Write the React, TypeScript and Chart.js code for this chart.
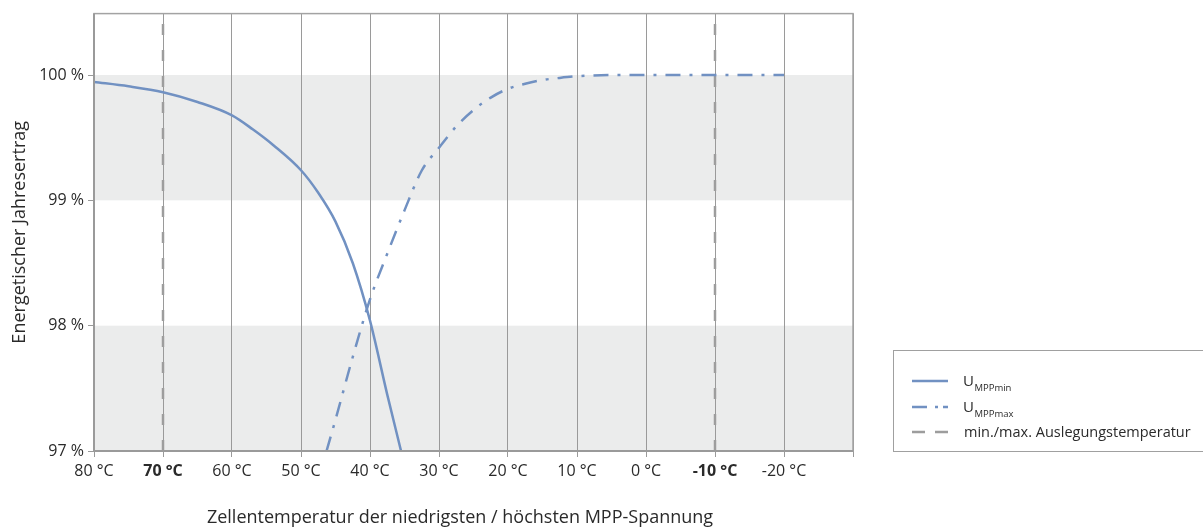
import React, { useEffect, useRef } from "react";
import { Chart, registerables } from "chart.js";

Chart.register(...registerables);

const FONT = "'Open Sans', Lato, sans-serif";

// UMPPmin curve (solid)
const TEMPS_MIN = [80, 75, 70, 65, 60, 57, 54, 50, 47.5, 45, 42.5, 40, 37.5, 35.5];
const YIELD_MIN = [99.945, 99.91, 99.863, 99.785, 99.678, 99.567, 99.44, 99.24, 99.06, 98.83, 98.5, 98.04, 97.45, 97.0];

// UMPPmax curve (dash-dot)
const TEMPS_MAX = [46.3, 45, 42.5, 40, 37.5, 35, 32.5, 30, 27.5, 25, 22.5, 20, 17.5, 15, 12.5, 10, 5, 0, -10, -20];
const YIELD_MAX = [97.0, 97.25, 97.75, 98.21, 98.574, 98.92, 99.238, 99.42, 99.59, 99.72, 99.82, 99.89, 99.93, 99.96, 99.977, 99.99, 100, 100, 100, 100];

// design temperatures (dashed verticals)
const DESIGN_TEMPS = [70, -10];
const BOLD_TICKS = [70, -10];

// grey bands
const BANDS = [[97, 98], [99, 100]];

const X_MIN = -30;
const X_MAX = 80;
const Y_MIN = 97;
const Y_MAX = 100.49;

const LEGEND_LABELS = [
  { main: "U", sub: "MPPmin" },
  { main: "U", sub: "MPPmax" },
  { main: "min./max. Auslegungstemperatur", sub: "" },
];

const BLUE = "#7191c2";
const GREY_DASH = "#9d9d9d";
const TEXT = "#2a2a2a";
const DASH_DOT = [15, 9, 3, 9];
const DASH = [11, 15];

export default function App() {
  const ref = useRef<HTMLCanvasElement | null>(null);

  useEffect(() => {
    document.body.style.margin = "0";
    const canvas = ref.current;
    if (!canvas) return;

    const bandsPlugin = {
      id: "bands",
      beforeDraw(chart: any) {
        const { ctx, chartArea, scales } = chart;
        ctx.save();
        ctx.fillStyle = "#ebecec";
        for (const [a, b] of BANDS) {
          const y1 = scales.y.getPixelForValue(b);
          const y2 = scales.y.getPixelForValue(a);
          ctx.fillRect(chartArea.left, y1, chartArea.right - chartArea.left, y2 - y1);
        }
        ctx.restore();
      },
      afterDraw(chart: any) {
        const { ctx, chartArea } = chart;
        ctx.save();
        // frame
        ctx.strokeStyle = "#a3a3a3";
        ctx.lineWidth = 1.5;
        ctx.strokeRect(chartArea.left, chartArea.top, chartArea.right - chartArea.left, chartArea.bottom - chartArea.top);
        ctx.strokeStyle = "#9a9a9a";
        ctx.lineWidth = 2;
        ctx.beginPath();
        ctx.moveTo(chartArea.left, chartArea.top);
        ctx.lineTo(chartArea.left, chartArea.bottom);
        ctx.lineTo(chartArea.right, chartArea.bottom);
        ctx.stroke();

        // axis titles
        ctx.fillStyle = TEXT;
        ctx.font = `18px ${FONT}`;
        ctx.textAlign = "center";
        ctx.textBaseline = "middle";
        ctx.fillText("Zellentemperatur der niedrigsten / höchsten MPP-Spannung", 460, 518);
        ctx.save();
        ctx.translate(20, (chartArea.top + chartArea.bottom) / 2);
        ctx.rotate(-Math.PI / 2);
        ctx.fillText("Energetischer Jahresertrag", 0, 0);
        ctx.restore();

        // legend
        const lx = 893.5, ly = 350.5, lw = 320, lh = 101;
        ctx.strokeStyle = "#a0a0a0";
        ctx.lineWidth = 1;
        ctx.strokeRect(lx, ly, lw, lh);
        const rows = [381, 407, 432];
        const styles = [
          { color: BLUE, dash: [] as number[] },
          { color: BLUE, dash: [15, 8, 3, 5] },
          { color: GREY_DASH, dash: [13, 10] },
        ];
        rows.forEach((ry, i) => {
          ctx.save();
          ctx.strokeStyle = styles[i].color;
          ctx.lineWidth = 2.5;
          ctx.setLineDash(styles[i].dash);
          ctx.beginPath();
          ctx.moveTo(912, ry);
          ctx.lineTo(948, ry);
          ctx.stroke();
          ctx.restore();
          const lab = LEGEND_LABELS[i];
          ctx.fillStyle = TEXT;
          ctx.textAlign = "left";
          ctx.textBaseline = "alphabetic";
          if (lab.sub) {
            ctx.font = `15px ${FONT}`;
            ctx.fillText(lab.main, 963, ry + 5);
            const w = ctx.measureText(lab.main).width;
            ctx.font = `9.5px ${FONT}`;
            ctx.fillText(lab.sub, 963 + w + 0.5, ry + 10);
          } else {
            ctx.font = `14.5px ${FONT}`;
            ctx.fillText(lab.main, 964, ry + 5);
          }
        });
        ctx.restore();
      },
    };

    const verticals = DESIGN_TEMPS.map((t) => ({
      label: "design " + t,
      data: [
        { x: t, y: Y_MIN },
        { x: t, y: Y_MAX },
      ],
      borderColor: GREY_DASH,
      borderWidth: 2.5,
      borderDash: DASH,
      pointRadius: 0,
      fill: false,
    }));

    const chart = new Chart(canvas, {
      type: "line",
      data: {
        datasets: [
          {
            label: "UMPPmin",
            data: TEMPS_MIN.map((x, i) => ({ x, y: YIELD_MIN[i] })),
            borderColor: BLUE,
            borderWidth: 2.5,
            pointRadius: 0,
            cubicInterpolationMode: "monotone",
            fill: false,
          },
          {
            label: "UMPPmax",
            data: TEMPS_MAX.map((x, i) => ({ x, y: YIELD_MAX[i] })),
            borderColor: BLUE,
            borderWidth: 2.5,
            borderDash: DASH_DOT,
            pointRadius: 0,
            cubicInterpolationMode: "monotone",
            fill: false,
          },
          ...verticals,
        ] as any,
      },
      plugins: [bandsPlugin],
      options: {
        animation: false,
        responsive: true,
        maintainAspectRatio: false,
        layout: { padding: { top: 10, right: 350, bottom: 0, left: 0 } },
        plugins: { legend: { display: false }, tooltip: { enabled: false } },
        scales: {
          x: {
            type: "linear",
            reverse: true,
            min: X_MIN,
            max: X_MAX,
            afterFit(scale: any) {
              scale.height = 79;
            },
            border: { display: false },
            grid: {
              color: "#9a9a9a",
              lineWidth: 1,
              drawTicks: true,
              tickLength: 6,
              tickColor: "#9a9a9a",
            },
            ticks: {
              stepSize: 10,
              maxRotation: 0,
              autoSkip: false,
              padding: 5,
              color: TEXT,
              font: (c: any) => ({
                family: FONT,
                size: 16,
                weight: c.tick && BOLD_TICKS.includes(c.tick.value) ? "bold" : "normal",
              }),
              callback: (v: any) => (v === X_MIN ? "" : `${v} °C`),
            },
          },
          y: {
            type: "linear",
            min: Y_MIN,
            max: Y_MAX,
            afterFit(scale: any) {
              scale.width = 94;
            },
            border: { display: false },
            grid: {
              drawOnChartArea: false,
              drawTicks: true,
              tickLength: 6,
              tickColor: "#9a9a9a",
            },
            ticks: {
              stepSize: 1,
              includeBounds: false,
              padding: 4,
              color: TEXT,
              font: { family: FONT, size: 16 },
              callback: (v: any) => (Number.isInteger(v) ? `${v} %` : ""),
            },
          },
        },
      },
    } as any);

    return () => chart.destroy();
  }, []);

  return (
    <div style={{ position: "fixed", left: 0, top: 0, width: 1203, height: 530 }}>
      <canvas ref={ref} />
    </div>
  );
}
